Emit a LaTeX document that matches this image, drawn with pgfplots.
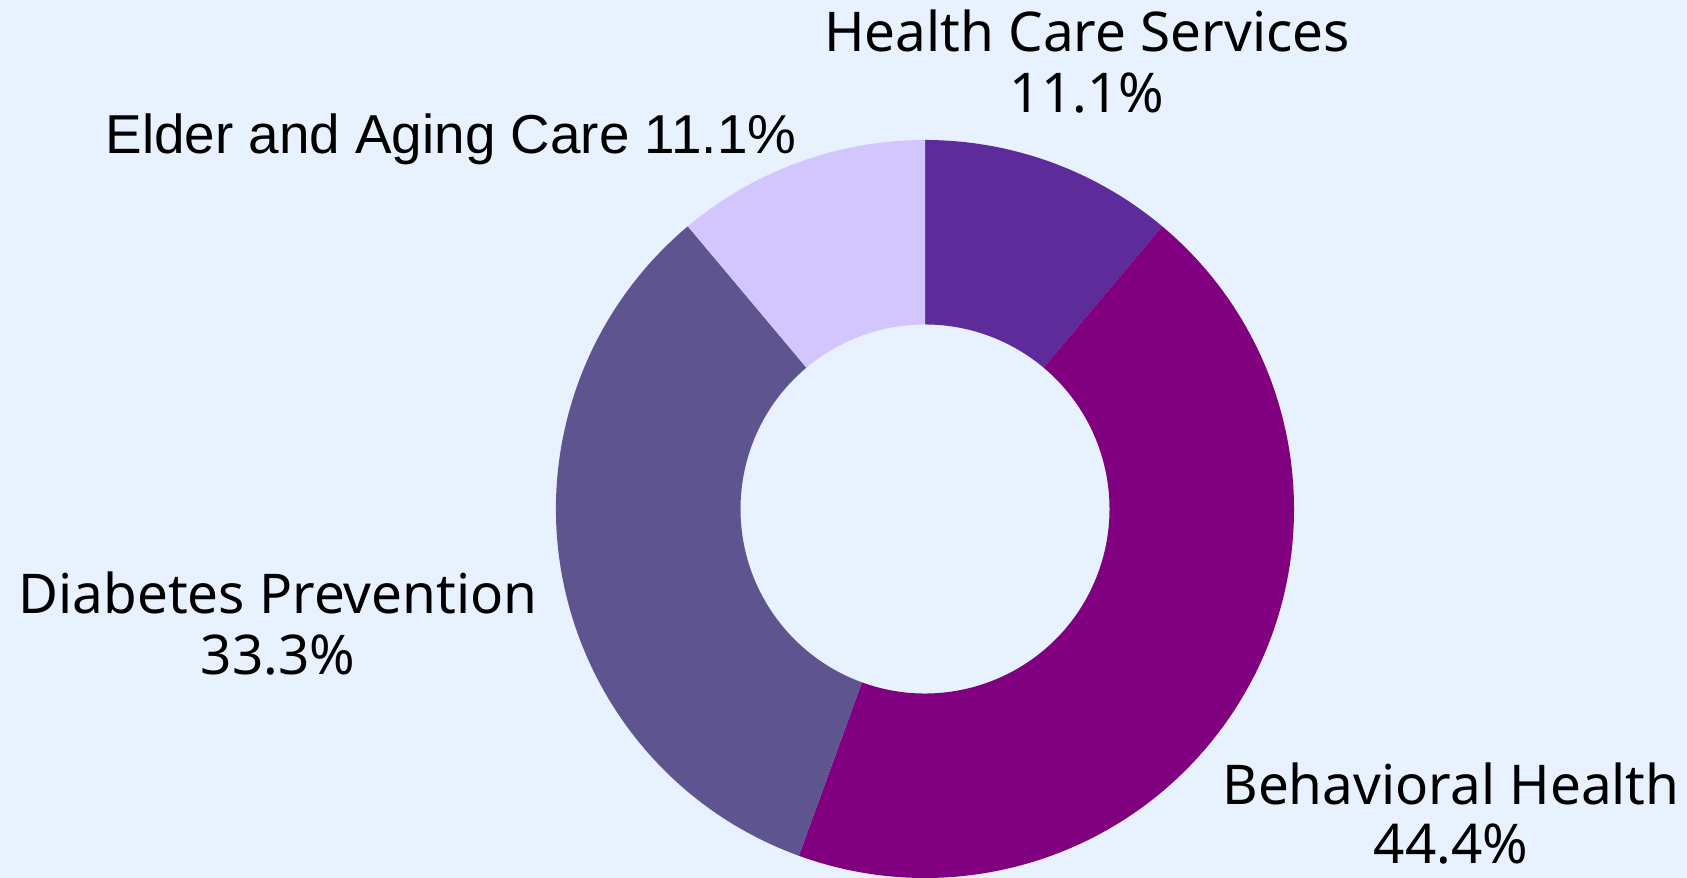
\documentclass[border=0pt]{standalone}
\usepackage{pgfplots}
\pgfplotsset{compat=1.18}
\usepackage{fontspec}
\setmainfont{Noto Sans}
\newfontfamily\elderfont{Liberation Sans}
\definecolor{bg}{HTML}{E8F2FE}
\definecolor{cHealth}{HTML}{5E2C9A}
\definecolor{cBehav}{HTML}{800080}
\definecolor{cDiab}{HTML}{5E5490}
\definecolor{cElder}{HTML}{D3C6FE}
\begin{document}
\begin{tikzpicture}
\begin{axis}[
  x=1cm, y=1cm,
  xmin=-9.25, xmax=7.62, ymin=-3.69, ymax=5.09,
  axis lines=none, ticks=none,
  clip=true,
]
\pgfplotsextra{
  \fill[bg] (axis cs:-9.25,-3.69) rectangle (axis cs:7.62,5.09);
  \gdef\curang{90}
  \foreach \v/\c in {11.1/cHealth, 44.4/cBehav, 33.3/cDiab, 11.1/cElder}{
    \pgfmathsetmacro\endang{\curang-\v*360/99.9}
    \fill[\c] (axis cs:{3.69*cos(\curang)},{3.69*sin(\curang)})
      arc[start angle=\curang, end angle=\endang, radius=3.69]
      -- (axis cs:{1.845*cos(\endang)},{1.845*sin(\endang)})
      arc[start angle=\endang, end angle=\curang, radius=1.845] -- cycle;
    \xdef\curang{\endang}
  }
}
\node[anchor=base, font=\fontsize{15.6}{18}\selectfont] at (axis cs:1.62,4.57) {Health Care Services};
\node[anchor=base, font=\fontsize{15.6}{18}\selectfont] at (axis cs:1.62,3.96) {11.1\%};
\node[anchor=base, font=\elderfont\fontsize{15.6}{18}\selectfont] at (axis cs:-4.74,3.55) {Elder and Aging Care 11.1\%};
\node[anchor=base, font=\fontsize{15.6}{18}\selectfont] at (axis cs:-6.47,-1.05) {Diabetes Prevention};
\node[anchor=base, font=\fontsize{15.6}{18}\selectfont] at (axis cs:-6.47,-1.66) {33.3\%};
\node[anchor=base, font=\fontsize{15.6}{18}\selectfont] at (axis cs:5.26,-2.96) {Behavioral Health};
\node[anchor=base, font=\fontsize{15.6}{18}\selectfont] at (axis cs:5.26,-3.55) {44.4\%};
\end{axis}
\end{tikzpicture}
\end{document}
